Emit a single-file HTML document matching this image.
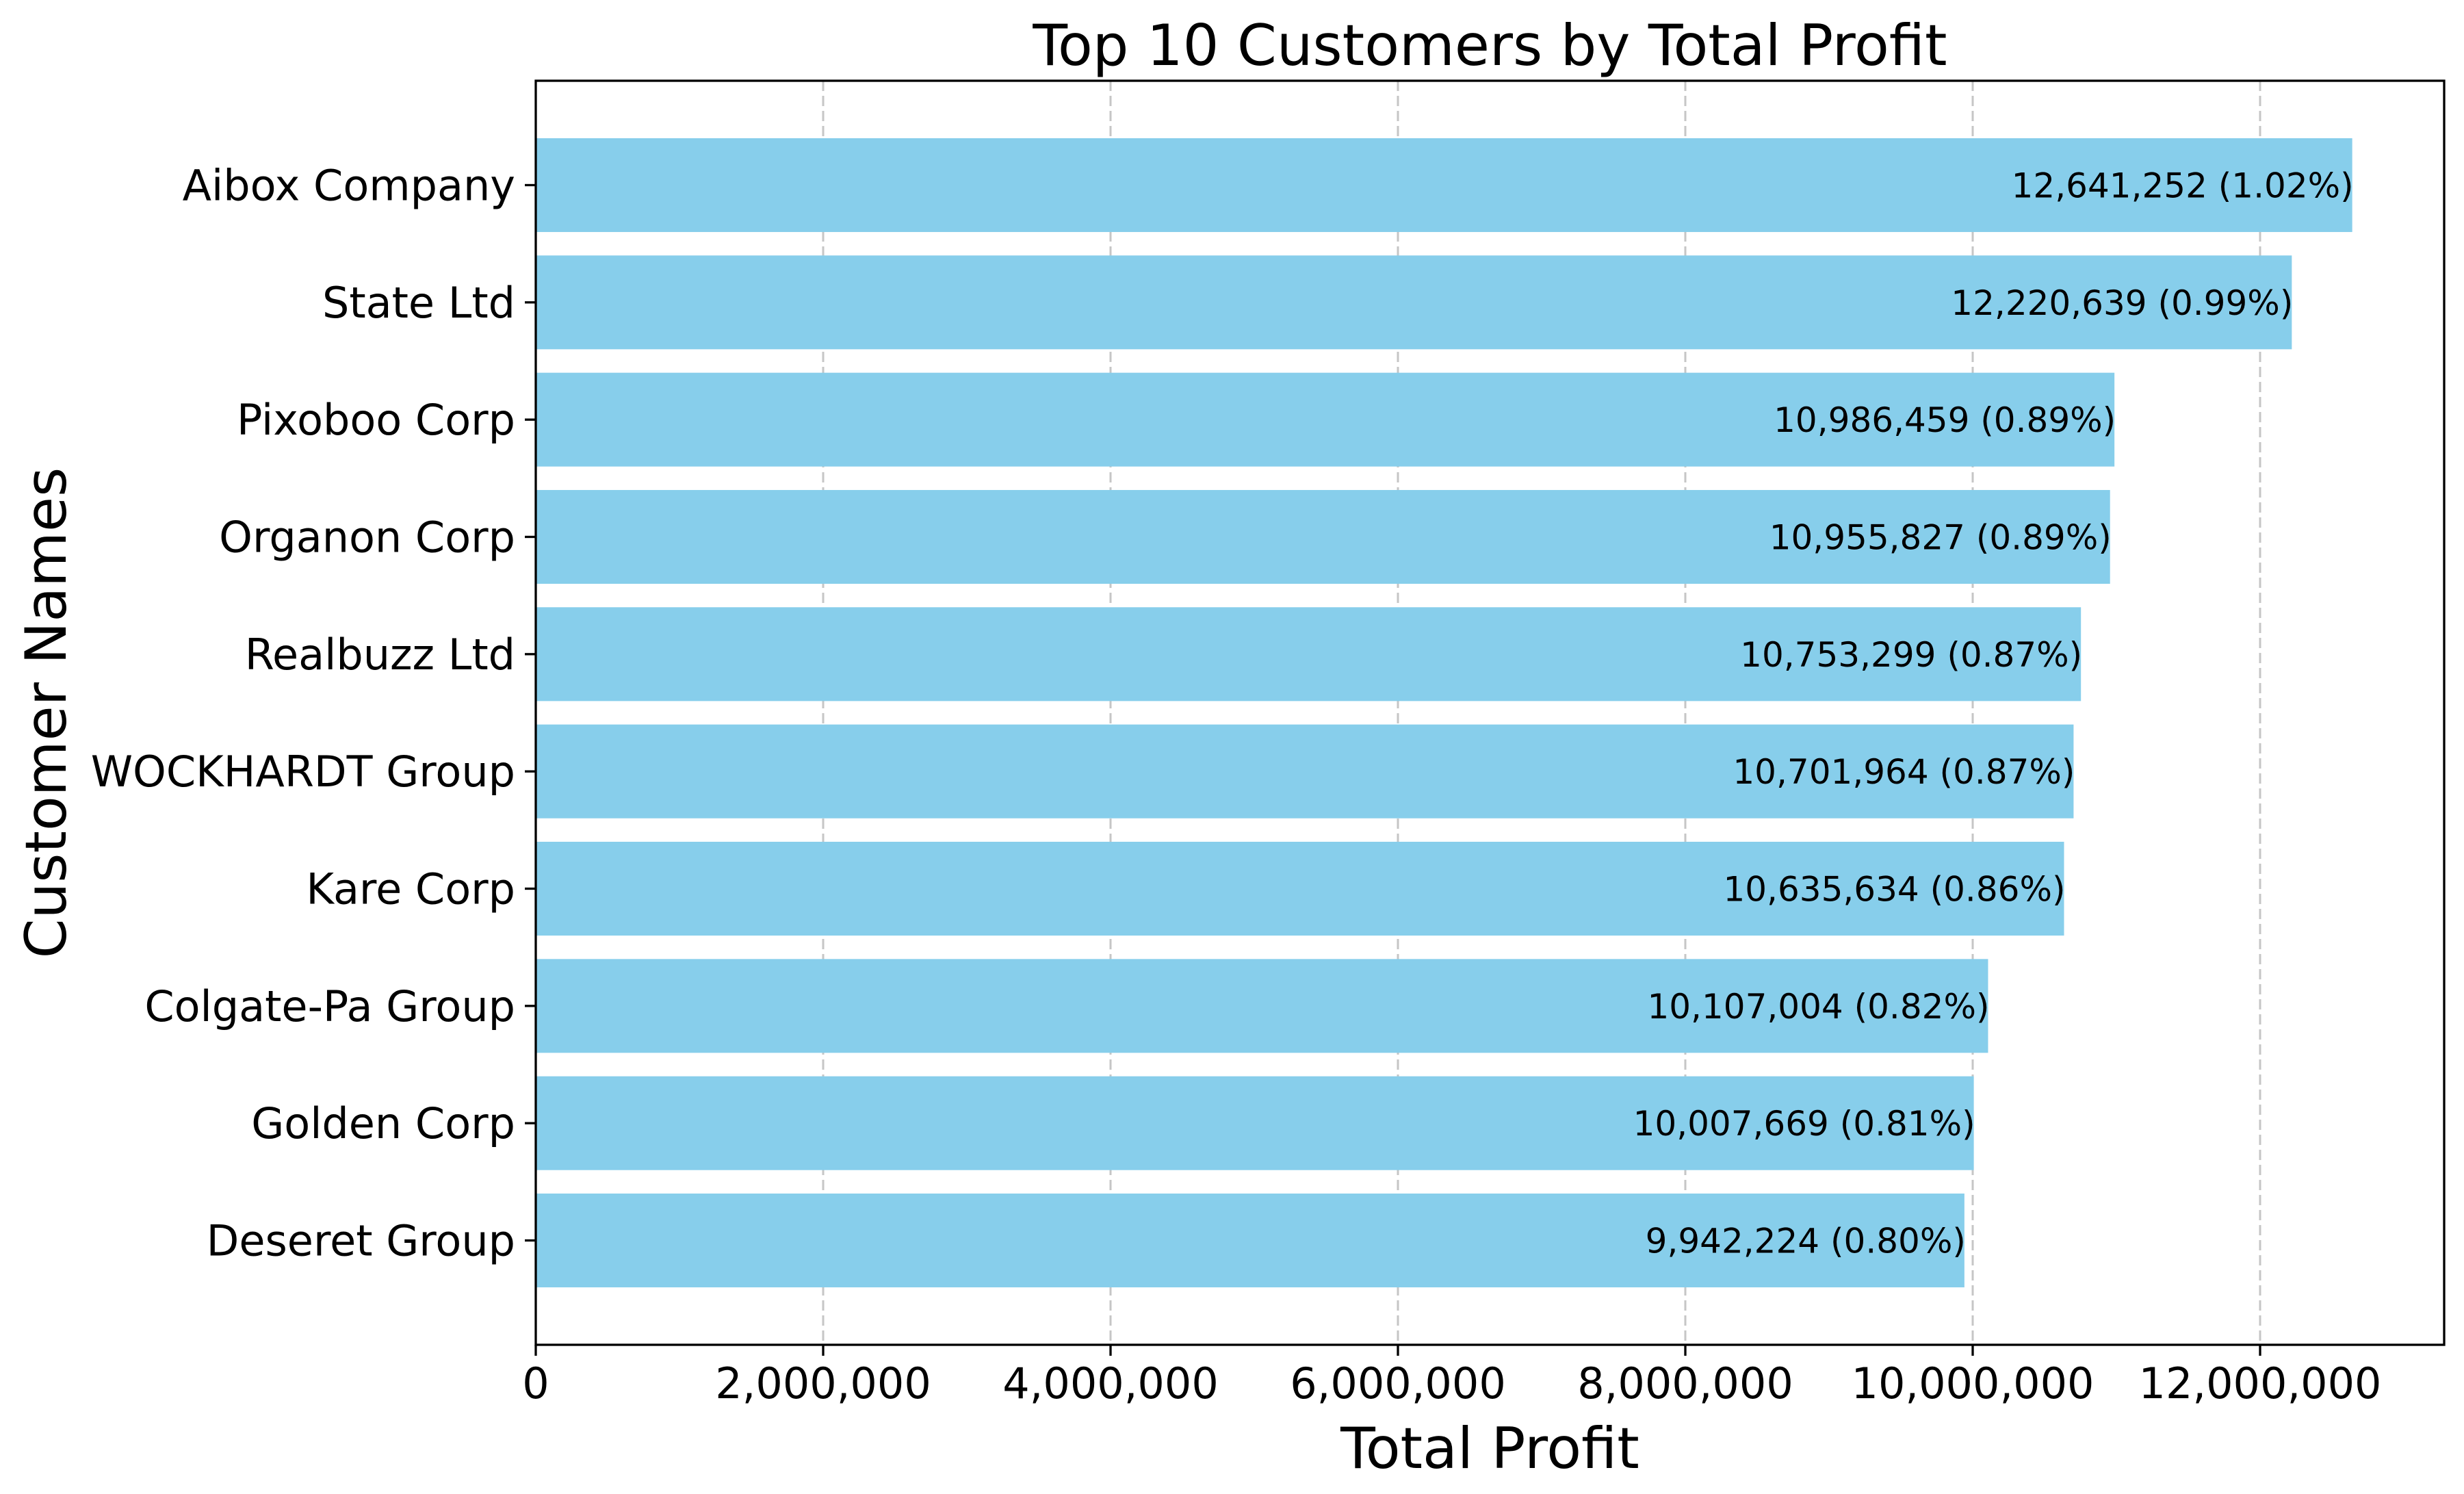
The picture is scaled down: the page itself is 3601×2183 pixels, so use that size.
<!DOCTYPE html>
<html><head><meta charset="utf-8"><style>
html,body{margin:0;padding:0;background:#fff;}
svg{display:block;font-family:"DejaVu Sans","Liberation Sans",sans-serif;}
</style></head><body>
<svg id="chart" width="3601" height="2183" viewBox="0 0 3601 2183" xmlns="http://www.w3.org/2000/svg">
<rect width="3601" height="2183" fill="#fff"/>
<g id="grid"></g><g id="bars"></g><g id="labels"></g><g id="axes"></g>
</svg>
<script>
const categories = ["Aibox Company","State Ltd","Pixoboo Corp","Organon Corp","Realbuzz Ltd","WOCKHARDT Group","Kare Corp","Colgate-Pa Group","Golden Corp","Deseret Group"];
const profits = [12641252,12220639,10986459,10955827,10753299,10701964,10635634,10107004,10007669,9942224];
const percents = ["1.02%","0.99%","0.89%","0.89%","0.87%","0.87%","0.86%","0.82%","0.81%","0.80%"];
const xTicks = [0,2000000,4000000,6000000,8000000,10000000,12000000];

const NS="http://www.w3.org/2000/svg";
const L=783,R=3572,T=118,B=1965;
const pxPerUnit=420/2000000;
function xScale(v){return L+v*pxPerUnit;}
const pitch=(B-T)/(categories.length-1+0.8+0.98);
function yCenter(i){return T+(0.49+0.4)*pitch+i*pitch;}
const barH=0.8*pitch;
function mk(tag,attrs,parent,text){const e=document.createElementNS(NS,tag);for(const k in attrs)e.setAttribute(k,attrs[k]);if(text!==undefined)e.textContent=text;parent.appendChild(e);return e;}
function fmt(n){return n.toLocaleString('en-US');}
const grid=document.getElementById('grid'),bars=document.getElementById('bars'),labels=document.getElementById('labels'),axes=document.getElementById('axes');

xTicks.forEach((t,i)=>{
  const x=xScale(t);
  if(i>0){const g=mk('line',{x1:x,x2:x,y1:T,y2:B,stroke:'#c6c6c6','stroke-width':3,'stroke-dasharray':'15,7'},grid);
  
  }
  const tk=mk('line',{x1:x,x2:x,y1:B,y2:B+16,stroke:'#000','stroke-width':3.3},axes);
  
  
  const tl=mk('text',{x:x,y:2043,'font-size':62,'text-anchor':'middle',fill:'#000'},axes,fmt(t));
  
  
});

categories.forEach((c,i)=>{
  const cy=yCenter(i);
  const b=mk('rect',{x:L,y:cy-barH/2,width:xScale(profits[i])-L,height:barH,fill:'#87CEEB'},bars);
  
  
  const v=mk('text',{x:xScale(profits[i])+2,y:cy+18,'font-size':50,'text-anchor':'end',fill:'#000'},labels,fmt(profits[i])+' ('+percents[i]+')');
  
  
  const tk=mk('line',{x1:L-16,x2:L,y1:cy,y2:cy,stroke:'#000','stroke-width':3.3},axes);
  
  
  const tl=mk('text',{x:L-30,y:cy+22,'font-size':62,'text-anchor':'end',fill:'#000'},axes,c);
  
  
});

const frame=mk('rect',{x:L,y:T,width:R-L,height:B-T,fill:'none',stroke:'#000','stroke-width':3.3},axes);


const title=mk('text',{x:(L+R)/2,y:95,'font-size':83,'text-anchor':'middle',fill:'#000'},axes,'Top 10 Customers by Total Profit');


const xl=mk('text',{x:(L+R)/2,y:2145,'font-size':83,'text-anchor':'middle',fill:'#000'},axes,'Total Profit');


const yl=mk('text',{x:0,y:0,'font-size':83,'text-anchor':'middle',fill:'#000',transform:'translate(96,'+((T+B)/2)+') rotate(-90)'},axes,'Customer Names');


</script>
</body></html>
